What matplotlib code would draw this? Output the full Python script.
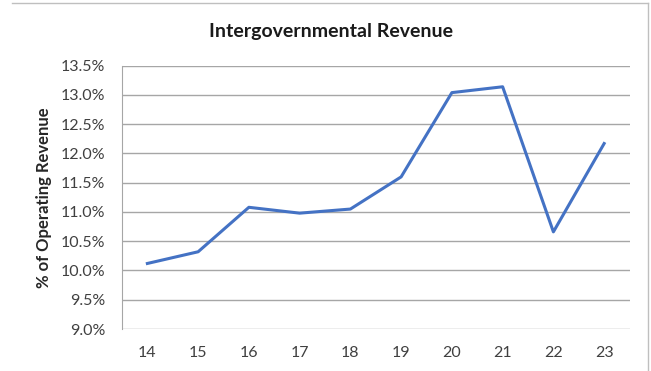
import matplotlib.pyplot as plt
from matplotlib.ticker import FuncFormatter
from matplotlib.lines import Line2D

years = ["14", "15", "16", "17", "18", "19", "20", "21", "22", "23"]
share = [10.12, 10.32, 11.08, 10.98, 11.05, 11.60, 13.04, 13.14, 10.66, 12.17]

plt.rcParams["font.family"] = ["Lato", "DejaVu Sans"]

fig = plt.figure(figsize=(6.51, 3.71), dpi=100)
ax = fig.add_axes([0.1874, 0.1132, 0.967 - 0.1874, 0.8229 - 0.1132])

x = range(len(years))
ax.plot(x, share, color="#4472C4", lw=2.2, solid_joinstyle="round")

ax.set_xlim(-0.5, len(years) - 0.5)
ax.set_ylim(9.0, 13.5)
ax.set_yticks([9.0 + 0.5 * i for i in range(10)])
ax.yaxis.set_major_formatter(FuncFormatter(lambda v, p: f"{v:.1f}%"))
ax.set_xticks(list(x))
ax.set_xticklabels(years)

ax.grid(axis="y", color="#A6A6A6", lw=1)
ax.set_axisbelow(True)
for side in ["top", "right", "bottom"]:
    ax.spines[side].set_visible(False)
ax.spines["left"].set_color("#A6A6A6")
ax.tick_params(length=0, labelsize=11.5, labelcolor="#404040")
ax.tick_params(axis="y", pad=12)
ax.tick_params(axis="x", pad=12)

ax.set_ylabel("% of Operating Revenue", fontsize=12, fontweight="bold",
              color="#262626", labelpad=6)
fig.text(331 / 651, 1 - 31.5 / 371, "Intergovernmental Revenue",
         ha="center", va="center", fontsize=14, fontweight="bold", color="#1a1a1a")

# outer chart frame (top and right edges visible)
fig.add_artist(Line2D([12 / 651, 648 / 651], [1 - 3 / 371, 1 - 3 / 371],
                      color="#BFBFBF", lw=1, transform=fig.transFigure))
fig.add_artist(Line2D([648 / 651, 648 / 651], [0, 1 - 3 / 371],
                      color="#BFBFBF", lw=1, transform=fig.transFigure))

fig.savefig("out.png", dpi=100)
